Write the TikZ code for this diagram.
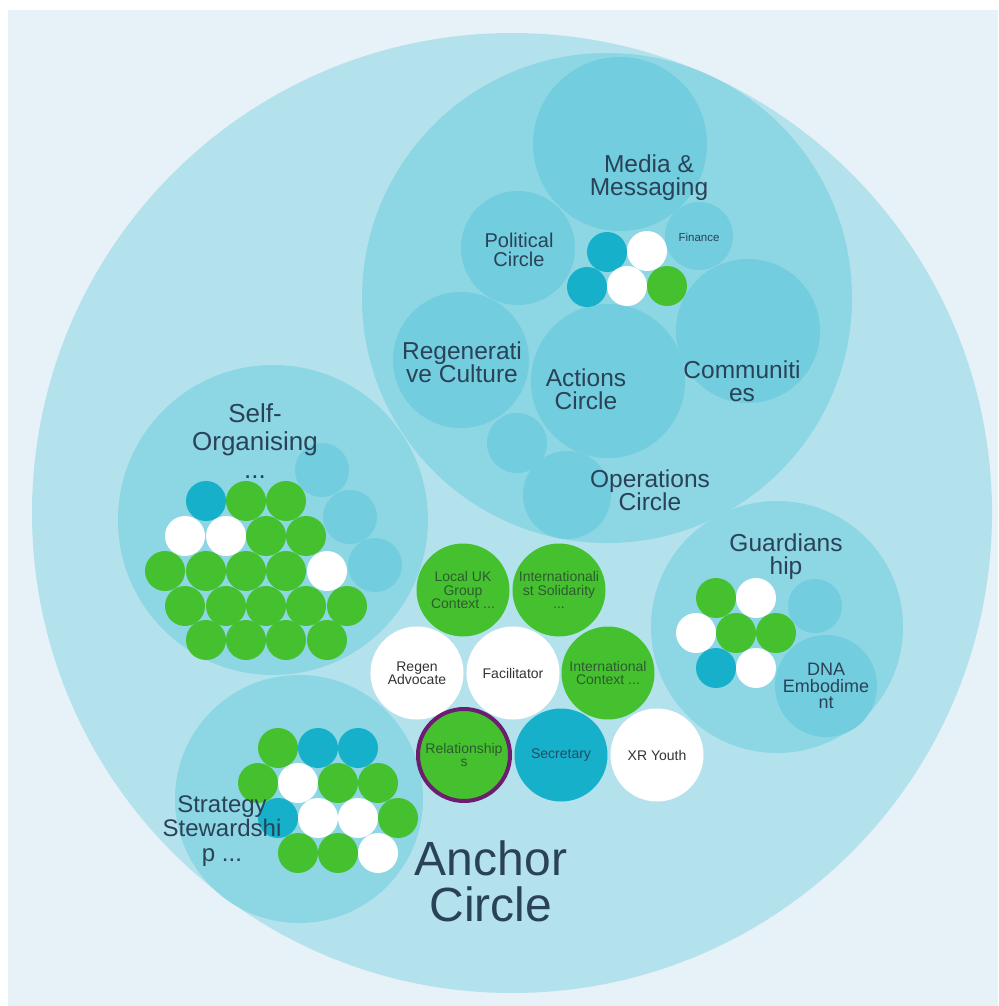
\documentclass[tikz,border=0pt]{standalone}
\usepackage{fontspec}
\setmainfont{Liberation Sans}
\usetikzlibrary{positioning}

\definecolor{pale}{HTML}{E7F2F8}
\definecolor{outerblue}{HTML}{B4E2EC}
\definecolor{circleblue}{HTML}{8DD6E4}
\definecolor{roleblue}{HTML}{72CDDE}
\definecolor{tealdot}{HTML}{17B0CA}
\definecolor{greendot}{HTML}{45C12F}
\definecolor{ringpurple}{HTML}{6C1D6F}
\definecolor{labeltext}{HTML}{2A4257}
\definecolor{greentext}{HTML}{2D5B30}
\definecolor{whitetext}{HTML}{333333}
\definecolor{tealtext}{HTML}{1D4F66}

\begin{document}
\begin{tikzpicture}[x=1pt, y=-1pt, node distance=96pt, on grid,
    bubble/.style={circle, draw=none, inner sep=0pt},
    outer bubble/.style={bubble, fill=outerblue},
    circle bubble/.style={bubble, fill=circleblue},
    role bubble/.style={bubble, fill=roleblue},
    small dot/.style={bubble, minimum size=40pt},
    ghost dot/.style={bubble, fill=roleblue, minimum size=54pt},
    role node/.style={bubble, minimum size=93pt, align=center, font=\fontsize{14}{13.5}\selectfont},
    green role/.style={role node, fill=greendot, text=greentext},
    white role/.style={role node, fill=white, text=whitetext},
    teal role/.style={role node, fill=tealdot, text=tealtext},
    big label/.style={align=center, text=labeltext, font=\fontsize{24.5}{23}\selectfont}]
  \tikzstyle{every node}=[text=labeltext]

  \useasboundingbox (0,0) rectangle (998,1006);
  \fill[white] (0,0) rectangle (998,1006);
  \fill[pale] (8,10) rectangle (998,1006);

  % anchor circle and its sub-circles
  \node[outer bubble, minimum size=960pt] (anchorc) at (512,513) {};
  \node[circle bubble, minimum size=490pt] (ops) at (607,298) {};
  \node[circle bubble, minimum size=310pt] (selforg) at (273,520) {};
  \node[circle bubble, minimum size=252pt] (guard) at (777,627) {};
  \node[circle bubble, minimum size=248pt] (strat) at (299,799) {};

  % circles inside ops
  \node[role bubble, minimum size=174pt] (media) at (620,144) {};
  \node[role bubble, minimum size=114pt] (polit) at (518,248) {};
  \node[role bubble, minimum size=68pt] (finance) at (699,236) {};
  \node[role bubble, minimum size=136pt] (regcult) at (461,360) {};
  \node[role bubble, minimum size=154pt] (actions) at (608,381) {};
  \node[role bubble, minimum size=144pt] (comm) at (748,331) {};
  \node[role bubble, minimum size=60pt] (spare) at (517,443) {};
  \node[role bubble, minimum size=88pt] (opcirc) at (567,495) {};

  \foreach \px/\py/\c [count=\i] in {607/252/tealdot, 647/251/white, 587/287/tealdot,
      627/286/white, 667/286/greendot}
    \node[small dot, fill=\c] (opsdot\i) at (\px,\py) {};

  % self-organising
  \node[ghost dot] (selfghost1) at (322,470) {};
  \node[ghost dot] (selfghost2) at (350,517) {};
  \node[ghost dot] (selfghost3) at (375,565) {};
  \foreach \px/\py/\c [count=\i] in {206/501/tealdot, 246/501/greendot, 286/501/greendot,
      185/536/white, 226/536/white, 266/536/greendot, 306/536/greendot,
      165/571/greendot, 206/571/greendot, 246/571/greendot, 286/571/greendot, 327/571/white,
      185/606/greendot, 226/606/greendot, 266/606/greendot, 306/606/greendot, 347/606/greendot,
      206/640/greendot, 246/640/greendot, 286/640/greendot, 327/640/greendot}
    \node[small dot, fill=\c] (selfdot\i) at (\px,\py) {};

  % guardianship
  \node[ghost dot] (guardghost) at (815,606) {};
  \node[role bubble, minimum size=102pt, align=center, font=\fontsize{18}{16.5}\selectfont]
    (dna) at (826,686) {DNA\\Embodime\\nt};
  \foreach \px/\py/\c [count=\i] in {716/598/greendot, 756/598/white, 696/633/white,
      736/633/greendot, 776/633/greendot, 716/668/tealdot, 756/668/white}
    \node[small dot, fill=\c] (guarddot\i) at (\px,\py) {};

  % strategy stewardship
  \foreach \px/\py/\c [count=\i] in {278/748/greendot, 318/748/tealdot, 358/748/tealdot,
      258/783/greendot, 298/783/white, 338/783/greendot, 378/783/greendot,
      278/818/tealdot, 318/818/white, 358/818/white, 398/818/greendot,
      298/853/greendot, 338/853/greendot, 378/853/white}
    \node[small dot, fill=\c] (stratdot\i) at (\px,\py) {};

  % anchor roles
  \node[white role] (facil) at (513,673) {Facilitator};
  \node[white role] (regen) [left=96pt of facil] {Regen\\Advocate};
  \node[green role] (intctx) [right=95pt of facil] {International\\Context ...};
  \node[green role] (localuk) [above left=83pt and 50pt of facil] {Local UK\\Group\\Context ...};
  \node[green role] (solid) [above right=83pt and 46pt of facil] {Internationali\\st Solidarity\\...};
  \node[green role, draw=ringpurple, line width=4pt, minimum size=92pt] (relat)
    [below left=82pt and 49pt of facil] {Relationship\\s};
  \node[teal role] (secr) [below right=82pt and 48pt of facil] {Secretary};
  \node[white role] (youth) [right=96pt of secr] {XR Youth};

  % labels
  \node[big label] (medialbl) at (649,178) {Media \&\\Messaging};
  \node[big label, font=\fontsize{20}{19}\selectfont] (politlbl) at (519,250) {Political\\Circle};
  \node[font=\fontsize{11.5}{12}\selectfont] (financelbl) at (699,237) {Finance};
  \node[big label] (regcultlbl) at (462,362) {Regenerati\\ve Culture};
  \node[big label] (actionslbl) at (586,389) {Actions\\Circle};
  \node[big label] (commlbl) at (742,381) {Communiti\\es};
  \node[big label] (opcirclbl) at (650,490) {Operations\\Circle};
  \node[big label, font=\fontsize{26}{28}\selectfont] (selforglbl) at (255,441) {Self-\\Organising\\...};
  \node[big label] (guardlbl) at (786,557) {Guardians\\hip};
  \node[big label, font=\fontsize{24}{24.5}\selectfont] (stratlbl) at (222,831) {Strategy\\Stewardshi\\p ...};
  \node[big label, font=\fontsize{48}{46}\selectfont] (anchorlbl) at (491,881) {Anchor\\Circle};
\end{tikzpicture}
\end{document}
